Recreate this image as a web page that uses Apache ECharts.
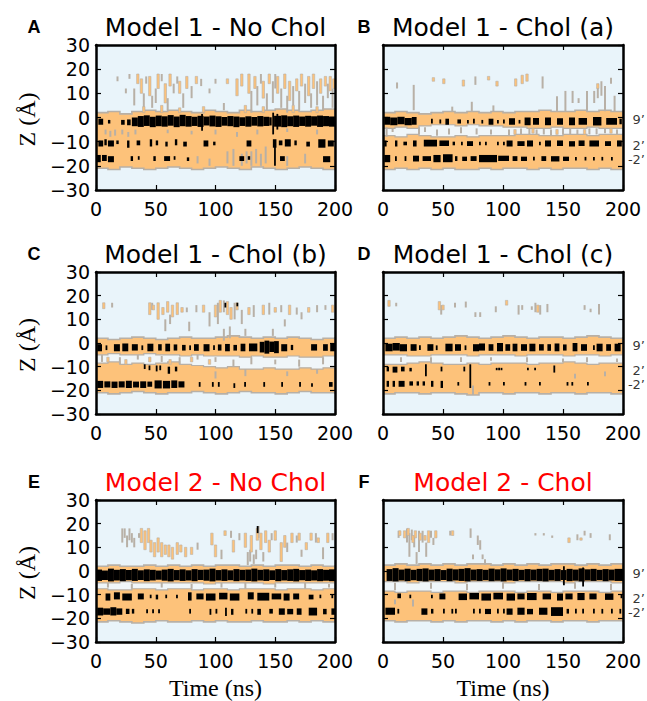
<!DOCTYPE html>
<html><head><meta charset="utf-8">
<script src="https://cdn.jsdelivr.net/npm/echarts@6/dist/echarts.min.js"></script>
<style>html,body{margin:0;padding:0;background:#fff}#c{width:647px;height:701px}</style>
</head><body><div id="c"></div>
<script>
// ---------- shared axes ----------
const times = [0,10,20,30,40,50,60,70,80,90,100,110,120,130,140,150,160,170,180,190,200];
const xTickValues = [0,50,100,150,200];
const yTickValues = [-30,-20,-10,0,10,20,30];
const residueLabels = ["9\u2019","2\u2019","-2\u2019"];
const residueZ = [-1,-11.5,-17.5];

// ---------- Panel A : Model 1 - No Chol ----------
const bandTopA = [2.0,2.5,1.5,2.5,3.0,2.5,3.0,2.5,2.0,3.0,2.5,2.0,3.0,2.5,3.0,3.5,3.0,2.5,3.0,3.5,3.0];
const bandBotA = [-21.0,-21.5,-20.5,-21.0,-21.5,-21.0,-20.5,-21.0,-21.5,-21.0,-20.5,-21.0,-21.5,-20.5,-21.0,-21.5,-21.0,-20.5,-21.0,-21.5,-21.0];
const grayA = [[18,15,17],[25,10,12],[28,16,18],[32,5,12],[40,3,10],[42,14,17],[47,4,9],[50,6,12],[55,15,18],[60,3,8],[65,10,14],[68,14,17],[73,4,10],[80,8,13],[88,13,16],[95,10,12],[100,14,16],[107,3,6],[130,2,11],[135,5,13],[138,14,18],[143,3,10],[148,6,15],[150,12,18],[155,4,12],[160,2,9],[165,5,13],[170,3,11],[175,6,14],[180,4,10],[185,5,15],[190,3,9],[194,8,14],[198,4,12],
  [8,-7,-5],[12,-8,-5.5],[16,-7.5,-5],[22,-7,-5],[27,-8,-6],[33,-7,-5],[60,-6.5,-5],[80,-7,-5.5],[100,-7,-5],[118,-8,-6],[135,-7,-5],[160,-6,-4.5],[185,-7,-5],
  [130,-20,-14],[134,-19,-13],[138,-20,-15],[142,-19,-12],[122,-20,-15],[110,-19,-14],[160,-20,-16],[175,-19,-15],[95,-20,-17],[85,-19,-16],[115,-20,-13],[126,-19,-14]];
const orangeA = [[35,14,18],[38,10,16],[45,9,17],[52,12,18],[58,6,14],[62,13,18],[70,10,15],[76,12,17],[84,14,17],[110,14,16],[118,9,16],[122,13,18],[128,10,18],[133,12,17],[140,8,15],[145,14,18],[152,10,17],[158,12,18],[162,7,15],[168,11,16],[172,13,18],[178,9,17],[182,12,18],[188,10,16],[192,13,17],[196,11,17],[199,12,16],
  [40,2,4.5],[55,2,5],[70,2,4],[90,2,4.5],[125,2,5],[140,2,4.5],[165,2,5],[185,2,4.5]];
const blackA = [[2,6,-3,-0.5],[10,12,-2.5,-1],[21,24,-3,-1],[26,29,-3.2,-0.8],[30,35,-3.6,0],[35,40,-3.9,0.6],[40,45,-3.5,0.9],[45,50,-4,0.3],[50,55,-3.6,0.8],[55,60,-3.8,0.5],[60,65,-3.4,1.0],[65,70,-4,0.4],[70,75,-3.6,1.1],[75,80,-3.8,0.6],[80,85,-3.5,0.3],[85,90,-3.9,0.7],[90,95,-3.3,0.4],[95,100,-3.7,0.8],[100,105,-3.9,0.5],[105,110,-3.4,0.2],[110,115,-3.6,0.6],[115,120,-4,0.4],[120,125,-3.5,0.1],[125,130,-3.8,0.5],[130,135,-3.4,0.2],[135,140,-3.7,0.6],[140,145,-3.5,0.3],[145,147,-3.3,0.1],[149,155,-3.8,0.7],[155,160,-4,0.9],[160,165,-3.6,0.5],[165,170,-3.9,0.8],[170,175,-3.5,0.4],[175,180,-3.8,0.7],[180,185,-3.4,0.5],[185,190,-3.9,0.8],[190,195,-3.6,0.6],[195,200,-3.8,0.4],[88,89,-5.5,1.5],[147.5,148.5,-7,2],[151,152,-5,1.5],
  [2,6,-12,-9.5],[7,9,-11.5,-9],[10,15,-12,-9.5],[17,19,-11,-9.5],[26,28,-12.5,-9.5],[34,37,-11.5,-9.5],[45,47,-12,-9],[50,52,-11.5,-9.5],[58,60,-12,-10],[66,68,-11.5,-9],[73,76,-12,-10],[90,94,-12,-9.5],[98,100,-11.5,-10],[126,130,-12,-9.5],[148,151,-12.5,-9],[153,156,-11.5,-9.5],[158,163,-12,-9],[166,168,-11.5,-9.5],[176,179,-12,-10],[186,192,-12.5,-9],[194,199,-12,-9.5],
  [0,4,-18.5,-15.5],[5,9,-18,-15.5],[10,15,-18.5,-16],[29,31,-18,-16],[35,36,-17.5,-16],[48,50,-18,-16],[57,62,-18,-16],[65,66,-17.5,-16],[76,78,-18,-16.5],[120,124,-18,-16],[127,129,-17.5,-16],[149,150.5,-20,-12],[154,158,-18,-16],[190,196,-18.5,-16]];

// ---------- Panel B : Model 1 - Chol (a) ----------
const bandTopB = [2.0,2.5,2.0,1.5,2.0,2.5,2.0,2.5,2.0,2.5,2.0,2.5,2.5,3.0,2.5,2.5,3.0,2.5,3.0,2.5,3.0];
const bandBotB = [-21.5,-21.0,-21.5,-21.0,-21.5,-21.0,-21.5,-21.5,-21.0,-21.5,-21.0,-21.0,-21.5,-21.0,-21.5,-21.0,-21.0,-21.5,-21.0,-21.5,-21.0];
const gapTopB = [-4.5,-4.0,-4.5,-3.5,-3.0,-3.0,-3.5,-3.0,-3.5,-3.5,-4.0,-4.0,-4.5,-4.5,-4.0,-4.5,-4.5,-4.0,-4.5,-4.5,-4.0];
const gapBotB = [-7.5,-8.0,-7.0,-7.5,-8.0,-8.0,-7.5,-8.0,-7.5,-7.5,-7.5,-7.0,-7.0,-7.5,-7.5,-7.0,-7.0,-7.5,-7.0,-7.0,-7.5];
const grayB = [[11.7,12,14.5],[25.6,3,13.5],[57.7,2.5,4.5],[74,2.5,6.5],[77,13.5,17],[92,2.5,5],[133,12,17],[145,2.6,8.8],[152,2.6,11],[158,6,11],[163,6,8],[170,2.6,11],[176,6,11],[179,8,12.5],[182,9,15],[185,2.6,13],[190,14,16.5],[193,2.6,9],
  [3,-8,-4],[8,-6,-4.5],[30,-7,-4],[35,-6,-4],[45,-7.5,-5],[55,-7,-4.5],[65,-6.5,-4],[78,-7,-4.5],[90,-7,-5],[105,-7.5,-5],[115,-7,-4.5],[122,-7,-4.5],[128,-7,-5],[134,-7,-4.5],[140,-7.5,-5],[150,-7,-4.5],[156,-7,-4.5],[162,-7,-5],[172,-7,-4.5],[178,-7,-4.5],[185,-6.5,-4.5],[195,-7,-5]];
const orangeB = [[42,15,16.5],[50.7,14,16],[67,13,15.5],[88,15.5,17],[95,13,15],[110.6,13,16],[116,14,17.5],[120,15,18],[179,12,14],
  [110,-7,-5],[125,-6.5,-4.5],[145,-7,-5],[168,-7,-5],[190,-6.5,-4.5]];
const blackB = [[1,6,-3,0.3],[6,12,-3.2,0],[12,18,-2.8,0.3],[18,24,-3.2,-0.2],[24,28,-3,0.2],[40,41.5,-2.5,-0.5],[47,48,-2.5,-0.8],[52,55,-3,-0.5],[62,65,-2.5,-0.8],[70,71,-2.5,-1],[75,76,-2.5,-0.5],[82,83,-2.5,-1],[88,92,-3,-0.5],[95,96,-2.5,-1],[100,101,-2.5,-0.8],[105,110,-3,-0.3],[113,114,-2.5,-1],[118,123,-3.2,0],[125,130,-3,-0.2],[135,140,-3.2,0],[145,150,-3,-0.3],[155,160,-3.2,0],[163,170,-3,-0.2],[175,182,-3.3,0.2],[186,195,-3,-0.2],[197,199,-2.8,-0.5],
  [1,3,-12,-9.5],[10,12,-12,-9.5],[17,20,-11.5,-10],[25,28,-12,-9.5],[34,45,-12,-9.2],[47,55,-11.8,-9.5],[58,60,-11.5,-10],[65,66,-11.5,-10],[70,75,-11.8,-9.8],[80,81,-11.5,-10],[85,86,-11.5,-10],[95,96,-11.5,-10],[100,101,-11.5,-10],[103,108,-12,-9.5],[112,118,-11.8,-9.8],[120,125,-12,-9.5],[130,131,-11.5,-10],[135,140,-12,-9.5],[145,150,-11.8,-9.5],[155,160,-12,-9.8],[163,168,-11.8,-9.5],[172,180,-12,-9.5],[185,190,-11.8,-9.8],[195,199,-12,-9.5],
  [1,6,-18.5,-15.5],[10,11,-18,-16],[18,19,-18,-16],[25,30,-18.2,-15.8],[33,40,-18,-16],[42,48,-18.5,-15.5],[50,58,-18.5,-15.2],[60,62,-18,-16],[66,70,-18,-16.2],[73,78,-18,-16],[80,95,-18.5,-15.5],[96,105,-18,-15.8],[108,112,-18,-16],[115,120,-18,-16.2],[125,126,-17.8,-16.2],[132,136,-18,-16],[140,147,-18.2,-16],[150,155,-18,-16.2],[160,161,-17.8,-16.3],[168,169,-17.8,-16.3],[175,176,-17.8,-16.3],[182,183,-17.8,-16.3],[190,191,-17.8,-16.3]];

// ---------- Panel C : Model 1 - Chol (b) ----------
const bandTopC = [2.0,1.5,2.0,2.5,2.0,1.5,2.0,2.5,2.0,2.0,2.5,3.0,2.5,2.0,2.5,2.0,2.5,2.0,1.5,2.0,2.5];
const bandBotC = [-21.0,-21.5,-21.0,-20.5,-21.0,-21.5,-21.0,-21.0,-20.5,-21.0,-21.5,-21.0,-20.5,-21.0,-21.0,-21.5,-21.0,-20.5,-21.0,-21.0,-21.5];
const gapTopC = [-5.0,-4.5,-5.0,-5.0,-4.5,-5.0,-5.0,-5.5,-5.0,-5.5,-5.5,-5.5,-6.0,-5.5,-6.0,-6.0,-5.5,-6.0,-6.0,-5.5,-6.0];
const gapBotC = [-8.5,-8.0,-9.0,-8.5,-9.0,-8.5,-8.0,-9.0,-9.5,-10.0,-10.5,-10.0,-11.0,-11.0,-10.5,-11.0,-11.0,-10.5,-11.0,-10.5,-10.0];
const grayC = [[13.5,15,17],[47,14,17],[58,5,10],[62,8,12],[76,13,15],[84,13,16],[95,7,13],[102,8,17],[107,13,18],[116,10,17],[122,8,14],[132,11,16],[145,12,17],[155,13,16],[158,7,10],[168,12,15],[172,10,13],[185,13,16],[192,14,16],[78,5,9],[107,1,6],[112,2,7],[125,3,6],[148,3,6],
  [5,-8,-5],[20,-9,-6],[35,-7,-5],[55,-8,-5.5],[70,-9,-6],[85,-7,-5],[100,-8,-6],[115,-10,-7],[130,-9,-6],[150,-9,-7],[170,-10,-7],[190,-9,-6],[100,-15,-12],[125,-14,-11],[160,-14,-12],[185,-13,-11]];
const orangeC = [[6.5,14.5,17],[45,12,17],[48,14,16],[52,10,17],[56,12,15],[60,13,17.5],[64,11,16],[68,12,17],[72,13,15],[90,13,16],[100,11,16],[104,13,18],[110,12,17.5],[113,10,15],[118,14,17],[128,12,15],[140,12,16],[150,13,15],[162,12,16],[178,13,15],[198,13,16],
  [10,-8,-6],[25,-9,-7],[45,-8,-6],[62,-9,-7],[80,-8,-6],[95,-9,-7]];
const blackC = [[1,5,-3.5,-0.5],[8,9,-3,-1],[15,20,-3.5,-0.5],[22,27,-3.5,-0.2],[30,35,-3.2,-0.5],[38,39,-3,-1],[43,48,-3.5,-0.3],[52,55,-3.2,-0.5],[58,62,-3.5,-0.3],[65,68,-3.2,-0.6],[72,75,-3.2,-0.8],[78,79,-3,-1],[82,86,-3.3,-0.5],[90,95,-3.5,-0.5],[98,99,-3,-1],[102,105,-3.2,-0.6],[108,112,-3.5,-0.4],[115,118,-3.2,-0.8],[121,125,-3.5,-0.3],[128,135,-3.5,-0.2],[137,141,-4,0.5],[141,145,-4.5,1],[145,149,-3.8,0.6],[149,153,-4.3,0.8],[155,160,-3.5,-0.5],[163,165,-3,-0.8],[180,185,-3.2,-0.5],[190,194,-3.3,-0.5],[196,200,-3.5,-0.3],
  [40,41,-11,-9],[44,45,-11.5,-9.5],[50,51.5,-12,-9.5],[53,54,-11.5,-9.5],[60,62,-13,-10],[66,68,-12,-10],
  [1,6,-19,-16],[7,12,-18.8,-16.2],[13,18,-19,-16.3],[19,24,-18.8,-16.2],[25,30,-19,-16],[31,36,-18.8,-16.3],[37,42,-19,-16.2],[43,47,-18.5,-16.3],[49,55,-19.2,-15.8],[56,62,-19.2,-16],[63,68,-19,-15.8],[69,74,-18.8,-16.2],[86,87,-18.5,-16.5],[97,98,-18.5,-16.5],[102,103,-18.5,-16.5],[115,116,-19,-17],[124,125,-18.5,-16.5],[140,141,-18.5,-16.5],[155,156,-18.5,-16.5],[170,171,-18.5,-16.5],[180,181,-18.5,-17],[195,198,-18.5,-16.5],
  [107.5,108.5,15,17],[117.5,118.5,15.5,17]];

// ---------- Panel D : Model 1 - Chol (c) ----------
const bandTopD = [2.0,2.5,2.0,2.5,2.0,2.5,3.0,2.5,2.0,2.5,3.0,2.5,2.0,2.5,2.5,2.0,2.5,3.0,2.5,2.0,2.5];
const bandBotD = [-21.5,-21.0,-21.0,-21.5,-21.0,-21.0,-21.5,-22.0,-21.0,-21.0,-21.5,-21.0,-21.0,-21.5,-21.0,-21.0,-21.5,-21.0,-21.0,-21.5,-21.0];
const gapTopD = [-5.0,-5.0,-5.5,-5.5,-5.0,-5.0,-5.0,-5.5,-5.0,-5.0,-5.0,-5.5,-5.0,-5.0,-5.0,-5.5,-5.0,-5.0,-5.5,-5.0,-5.0];
const gapBotD = [-9.0,-9.0,-8.5,-8.0,-8.5,-9.0,-9.0,-8.5,-9.0,-8.5,-8.5,-8.5,-9.0,-8.5,-8.5,-8.0,-8.5,-9.0,-8.5,-8.5,-9.0];
const grayD = [[11,15.5,17],[48.5,12,16],[60,15,17],[69,15,17.5],[77,11,13],[81,11,13],[94,13,15.5],[113,12,16],[116,14,16],[124,14,15.5],[127,13,17],[131,12,16],[137,13,16.5],[168,14,16],[173,13,14.5],[180,12,16.5],
  [15,-8,-6],[40,-8.5,-6],[65,-8,-6],[90,-7.5,-6],[120,-8,-6],[150,-8,-6.5],[170,-8,-6],[195,-8,-6.5],[75,-22,-18],[160,-15,-13],[185,-14,-12]];
const orangeD = [[5,15.5,18],[47,14,17.5],[50,14,16],[103,16,18],[129,13,16]];
const blackD = [[2,8,-3.5,-0.3],[8,14,-3.2,0],[14,20,-3.5,-0.5],[23,28,-3.3,-0.5],[30,31,-3,-1],[37,42,-3.3,-0.5],[44,45,-3,-1],[52,58,-3.5,-0.3],[60,65,-3.3,-0.5],[68,69,-3,-1],[75,80,-3.5,-0.5],[80,85,-3.2,-0.2],[88,92,-3.3,-0.5],[95,100,-3.5,0],[102,106,-3.3,-0.5],[108,112,-3.5,-0.3],[115,120,-3.3,-0.5],[122,127,-3.5,-0.3],[130,134,-3.2,-0.5],[137,140,-3.3,-0.5],[143,147,-3.5,-0.2],[150,153,-3.2,-0.6],[158,162,-3.5,0],[165,170,-3.3,-0.5],[175,176,-3,-1],[178,183,-3.5,-0.3],[186,190,-3.3,-0.5],[193,198,-3.5,-0.3],
  [3,5,-12,-10],[8,12,-12.5,-10],[15,18,-12,-10],[22,24,-12,-10.5],[35,36,-14,-9],[48,49,-12,-10],[67,68,-12,-10],[72,73,-19,-9],[94,95,-11.5,-10.5],[96,97,-11.5,-10.5],[98,99,-11.5,-10.5],[120,121,-11.5,-10.5],[126,127,-11.5,-10.5],[142,143,-12.5,-9.5],
  [3,5,-18.5,-16],[8,10,-18.5,-16],[13,18,-18.5,-16],[22,25,-18,-16.2],[28,30,-18,-16.2],[33,35,-18,-16.2],[40,42,-18.5,-16],[48,50,-19,-16],[62,63,-18,-16.5],[88,89,-18,-16.5],[100,101,-18,-16.5],[118,119,-18,-16.5],[130,131,-18,-16.5],[153,154,-18,-16.5],[157,158,-18,-16.5],[170,171,-18,-16.5]];

// ---------- Panel E : Model 2 - No Chol ----------
const bandTopE = [2.0,2.5,2.0,2.0,2.5,2.0,2.5,2.0,2.5,2.0,2.5,2.5,2.0,2.5,2.0,2.5,2.5,2.0,2.5,2.0,2.5];
const bandBotE = [-21.5,-21.0,-21.5,-22.0,-21.5,-21.0,-21.5,-21.5,-21.0,-21.5,-21.0,-21.5,-21.5,-21.0,-21.5,-21.5,-21.0,-21.5,-21.0,-21.5,-21.5];
const gapTopE = [-5.0,-5.0,-4.5,-5.0,-5.0,-5.0,-5.0,-5.0,-5.0,-5.5,-5.0,-5.0,-5.0,-5.0,-5.5,-5.0,-5.0,-5.0,-5.0,-5.0,-5.0];
const gapBotE = [-7.5,-8.0,-8.0,-7.5,-7.5,-8.0,-7.5,-7.5,-8.0,-7.5,-7.5,-8.0,-7.5,-7.5,-7.5,-8.0,-7.5,-7.5,-8.0,-7.5,-8.0];
const grayE = [[22,12,18],[24,14,18],[26,10,15],[28,13,18],[30,12,16],[32,10,14],[36,14,16],[85,9,12],[105,5,9],[113,14,17],[120,13,16],[127,2.5,8],[129,4,9],[132,3,7],[134,5,9],[136,14,19],[140,4,8],[147,13,16],[160,8,12],[168,12,15],[172,6,9],[184,12,16],[190,5,10],[198,13,16],
  [10,-7,-5],[30,-7.5,-5.5],[55,-7,-5],[80,-7.5,-5.5],[105,-7,-5],[125,-7.5,-5],[150,-7,-5.5],[175,-7.5,-5],[195,-7,-5.5]];
const orangeE = [[38,12,18],[41,9,17],[44,12,18],[46,8,13],[49,6,12],[52,8,14],[55,6,12],[58,7,11],[61,6,11],[64,5,10],[68,7,12],[71,8,11],[75,6,10],[80,7,10],[97,11,16],[100,6,11],[108,15,17],[115,8,13],[125,10,16],[130,8,15],[135,13,18],[138,9,16],[142,12,17],[145,8,13],[150,13,17],[155,4,12],[158,10,15],[164,12,16],[170,13,16],[176,9,12],[180,13,16],[186,12,14],[194,12,16]];
const blackE = [[0,5,-4.2,0.6],[5,10,-3.8,0.2],[10,15,-4.4,1],[15,20,-4,0.5],[20,25,-4.3,0.8],[25,30,-3.9,0.4],[30,35,-4.2,0.9],[35,40,-3.8,0.3],[40,45,-4.3,0.7],[45,50,-4,0.5],[50,55,-3.7,0.2],[55,60,-4.1,0.6],[60,65,-4.4,0.9],[65,70,-3.9,0.4],[70,75,-4.2,0.7],[75,80,-4,0.3],[80,85,-4.3,0.8],[85,90,-3.8,0.5],[90,95,-4.1,0.6],[95,100,-4.4,1],[100,105,-4,0.4],[105,110,-4.2,0.7],[110,115,-3.9,0.3],[115,120,-4.3,0.8],[120,125,-4,0.5],[125,130,-4.2,0.6],[130,135,-4.4,1],[135,140,-4,0.5],[140,145,-4.2,0.7],[145,150,-3.8,0.3],[150,155,-4.3,0.8],[155,160,-4,0.4],[160,165,-4.2,0.7],[165,170,-4.4,0.9],[170,175,-3.9,0.4],[175,180,-4.2,0.6],[180,185,-4,0.3],[185,190,-4.3,0.8],[190,195,-4.1,0.5],[195,200,-4.3,0.7],
  [8,12,-12.5,-9.5],[15,20,-12,-9],[22,30,-12.5,-9.5],[35,40,-12,-9.5],[45,46,-11.5,-10],[50,52,-12,-10],[58,59,-11.5,-10],[67,68,-11.5,-10],[77,80,-12.5,-9],[84,90,-12,-9.5],[92,100,-12.5,-9.5],[103,110,-12,-9.2],[112,120,-12.5,-9.5],[127,132,-12,-9],[135,145,-12.5,-9.2],[147,155,-12,-9.5],[157,162,-12.5,-9.5],[165,170,-12,-9.5],[178,182,-12,-10],[187,188,-11.5,-10],[197,198,-11.5,-10],
  [1,6,-18.8,-15.5],[6,12,-18.5,-15.8],[12,17,-18.8,-15.3],[17,22,-18.5,-15.8],[25,28,-18.2,-16],[30,32,-18,-16],[42,43,-17.8,-16.2],[47,48,-17.8,-16.2],[52,53,-17.8,-16.2],[78,79,-18,-16],[95,96,-18.5,-16],[100,101,-18,-16],[108,109,-19,-15.5],[113,115,-18.5,-16],[125,126,-18,-16],[130,131,-18,-16],[135,138,-18.5,-16],[145,148,-18,-16],[153,158,-18.5,-15.8],[160,165,-18.3,-16],[168,172,-18.5,-15.8],[178,185,-18.8,-15.5],[190,193,-18.3,-16],[197,200,-18.5,-15.8],
  [134.5,135.5,16,19]];

// ---------- Panel F : Model 2 - Chol ----------
const bandTopF = [2.5,3.0,2.5,3.0,2.5,3.0,2.5,3.0,3.0,2.5,3.0,2.5,3.0,2.5,3.0,3.0,2.5,3.0,2.5,3.0,3.0];
const bandBotF = [-21.0,-21.5,-21.0,-21.0,-21.5,-21.0,-21.5,-21.0,-21.0,-21.5,-21.0,-21.5,-21.0,-21.0,-21.5,-21.0,-21.0,-21.5,-21.0,-21.0,-21.5];
const gapTopF = [-4.5,-4.5,-5.0,-4.5,-4.5,-4.5,-5.0,-4.5,-4.5,-4.5,-5.0,-4.5,-4.5,-4.5,-4.5,-5.0,-4.5,-4.5,-4.5,-5.0,-4.5];
const gapBotF = [-8.5,-9.0,-8.5,-8.5,-9.0,-8.5,-8.5,-9.0,-8.5,-8.5,-8.5,-9.0,-8.5,-8.5,-9.0,-8.5,-8.5,-8.5,-9.0,-8.5,-8.5];
const grayF = [[13,14,17],[20,12,18],[22,6,16],[24,13,17.5],[26,10,15],[28,3,8],[30,8,17],[33,12,17],[36,6,12],[40,14,17],[42,11,14],[56,15,17],[73,14,18],[75,5,7],[79,11,15],[81,9,13],[83,5,7],[85,2.6,5],[127,15,16],[134,15,16],[141,14,15],[162,13,15.5],[168,15,17],[173,14,16],[189,13,15.5],
  [10,-8,-5],[40,-7.5,-5],[70,-8,-5.5],[100,-7.5,-5],[130,-8,-5.5],[160,-7.5,-5],[190,-8,-5.5],[10,-14,-12],[25,-15,-12]];
const orangeF = [[14,15,17],[18,14,17],[21,15,18],[25,12,15],[27,14,17],[31,13,16],[35,13,15],[38,12,17],[44,14,17],[58,15,17],[155,12,14],[165,13,14]];
const blackF = [[3,8,-4.2,0.8],[8,13,-4.4,1.2],[13,18,-4,0.6],[18,23,-4.3,1],[23,28,-3.9,0.5],[28,33,-4.2,0.9],[33,38,-4.4,1.1],[38,43,-4,0.6],[43,48,-4.2,0.8],[48,53,-3.8,0.4],[53,58,-4.3,1],[58,63,-4,0.7],[63,68,-4.2,0.9],[68,73,-4.4,1.2],[73,78,-4,0.6],[78,83,-4.2,0.8],[83,88,-3.9,0.5],[88,93,-4.3,1],[93,98,-4.1,0.7],[98,103,-4.4,1.1],[103,108,-4,0.6],[108,113,-4.2,0.9],[113,118,-3.9,0.5],[118,123,-4.3,0.8],[123,128,-4,0.6],[128,133,-4.2,0.9],[133,138,-4.4,1],[138,143,-4,0.5],[143,148,-4.2,0.8],[148,153,-3.8,0.4],[153,158,-4.3,0.9],[158,163,-4.1,0.6],[163,168,-4.4,1.1],[168,173,-4,0.7],[173,178,-4.2,0.9],[178,183,-3.9,0.5],[183,188,-4.3,0.8],[188,193,-4,0.6],[193,200,-4.2,0.9],[150,151,-6,2],[166,167,-6.5,1.5],
  [12,15,-11.5,-9.5],[22,23,-11.5,-10],[40,41,-11.5,-10],[47,52,-12,-9.5],[63,70,-12.3,-9.5],[72,80,-12,-9.3],[82,90,-12.5,-9.5],[92,100,-12,-9.2],[103,110,-12.5,-9.5],[112,118,-12,-9.5],[120,128,-12.3,-9.3],[133,140,-12,-9.5],[145,150,-12.5,-9.5],[152,158,-12,-9.5],[162,168,-12.3,-9.3],[172,178,-12,-9.5],[185,192,-12.2,-9.5],[198,199,-11.5,-10],
  [2,10,-18.5,-15.5],[12,13,-18,-16],[32,37,-18.5,-15.8],[40,42,-18,-16],[50,51,-18,-16],[57,58,-18,-16],[60,61,-18,-16],[75,76,-18,-16],[80,81,-18,-16],[85,90,-18.2,-16],[95,96,-18,-16],[100,101,-18,-16],[103,108,-18.5,-15.8],[112,118,-18.5,-15.5],[120,125,-18.3,-16],[130,137,-18.5,-15.5],[140,150,-19,-15.3],[153,155,-18,-16],[160,161,-18,-16],[166,167,-18,-16],[175,176,-18,-16],[182,183,-18,-16],[190,191,-18,-16],[197,198,-18,-16]];

// ---------- build chart ----------
const BG = '#e9f4fa', ORANGE = '#fdc27a', GRAY = '#b8b0a6', GAP = '#f0f6f9';
const panels = [
  {letter:'A', title:'Model 1 - No Chol', red:false, left:96, top:45, w:239, h:145, yLab:true, bt:bandTopA, bb:bandBotA, gt:null, gb:null, gray:grayA, orange:orangeA, black:blackA},
  {letter:'B', title:'Model 1 - Chol (a)', red:false, left:383, top:45, w:240, h:145, yLab:false, bt:bandTopB, bb:bandBotB, gt:gapTopB, gb:gapBotB, gray:grayB, orange:orangeB, black:blackB},
  {letter:'C', title:'Model 1 - Chol (b)', red:false, left:96, top:272, w:239, h:142, yLab:true, bt:bandTopC, bb:bandBotC, gt:gapTopC, gb:gapBotC, gray:grayC, orange:orangeC, black:blackC},
  {letter:'D', title:'Model 1 - Chol (c)', red:false, left:383, top:272, w:240, h:142, yLab:false, bt:bandTopD, bb:bandBotD, gt:gapTopD, gb:gapBotD, gray:grayD, orange:orangeD, black:blackD},
  {letter:'E', title:'Model 2 - No Chol', red:true, left:96, top:500, w:239, h:142, yLab:true, bt:bandTopE, bb:bandBotE, gt:gapTopE, gb:gapBotE, gray:grayE, orange:orangeE, black:blackE},
  {letter:'F', title:'Model 2 - Chol', red:true, left:383, top:500, w:240, h:142, yLab:false, bt:bandTopF, bb:bandBotF, gt:gapTopF, gb:gapBotF, gray:grayF, orange:orangeF, black:blackF}
];

// stepped outline: each sample holds its level until the next sample time
function polyRender(topArr, botArr, fill, stroke, lw){
  return function(params, api){
    if (params.dataIndex !== 0) return;
    const pts = [];
    const n = times.length;
    for (let i = 0; i < n; i++) {
      const tEnd = i < n - 1 ? times[i + 1] : times[i];
      pts.push(api.coord([times[i], topArr[i]]));
      pts.push(api.coord([tEnd, topArr[i]]));
    }
    for (let i = n - 1; i >= 0; i--) {
      const tEnd = i < n - 1 ? times[i + 1] : times[i];
      pts.push(api.coord([tEnd, botArr[i]]));
      pts.push(api.coord([times[i], botArr[i]]));
    }
    return {type:'polygon', shape:{points:pts}, style:{fill:fill, stroke:stroke, lineWidth:lw, lineJoin:'miter'}};
  };
}
function tickRender(fill, stroke, wpx){
  return function(params, api){
    const a = api.coord([api.value(0), api.value(2)]);
    const b = api.coord([api.value(0), api.value(1)]);
    return {type:'rect', shape:{x:a[0]-wpx/2, y:a[1], width:wpx, height:Math.max(1.5, b[1]-a[1])},
      style:{fill:fill, stroke:stroke, lineWidth:stroke ? 0.6 : 0}};
  };
}
function segRender(fill){
  return function(params, api){
    const a = api.coord([api.value(0), api.value(3)]);
    const b = api.coord([api.value(1), api.value(2)]);
    return {type:'rect', shape:{x:a[0], y:a[1], width:Math.max(1.8, b[0]-a[0]), height:Math.max(1.5, b[1]-a[1])}, style:{fill:fill}};
  };
}
const minusFmt = v => (v < 0 ? '\u2212' + Math.abs(v) : String(v));
const labelFont = {fontFamily:'DejaVu Sans', fontSize:19, color:'#000'};

const grids = [], xAxes = [], yAxes = [], series = [], graphics = [];
panels.forEach((p, i) => {
  grids.push({left:p.left, top:p.top, width:p.w, height:p.h, show:true, backgroundColor:BG, borderWidth:0});
  const axLine = {show:true, onZero:false, lineStyle:{color:'#000', width:2.5}};
  const tick = {show:true, inside:true, length:5, lineStyle:{color:'#000', width:1.2}};
  xAxes.push({gridIndex:i, type:'value', min:0, max:200, interval:50, position:'bottom', z:10,
    axisLine:axLine, axisTick:tick, splitLine:{show:false},
    axisLabel:Object.assign({margin:9, formatter: v => String(v)}, labelFont)});
  xAxes.push({gridIndex:i, type:'value', min:0, max:200, interval:50, position:'top', z:10,
    axisLine:axLine, axisTick:tick, splitLine:{show:false}, axisLabel:{show:false}});
  yAxes.push({gridIndex:i, type:'value', min:-30, max:30, interval:10, position:'left', z:10,
    axisLine:axLine, axisTick:tick, splitLine:{show:false},
    axisLabel:Object.assign({show:p.yLab, margin:6, formatter:minusFmt}, labelFont)});
  yAxes.push({gridIndex:i, type:'value', min:-30, max:30, interval:10, position:'right', z:10,
    axisLine:axLine, axisTick:tick, splitLine:{show:false}, axisLabel:{show:false}});
  const xi = 2*i, yi = 2*i;
  series.push({type:'custom', xAxisIndex:xi, yAxisIndex:yi, z:1, clip:true, silent:true,
    renderItem:polyRender(p.bt, p.bb, ORANGE, GRAY, 1.6), data:[[0,0]]});
  if (p.gt) series.push({type:'custom', xAxisIndex:xi, yAxisIndex:yi, z:2, clip:true, silent:true,
    renderItem:polyRender(p.gt, p.gb, GAP, GRAY, 1.2), data:[[0,0]]});
  series.push({type:'custom', xAxisIndex:xi, yAxisIndex:yi, z:3, clip:true, silent:true,
    renderItem:tickRender(GRAY, null, 2), data:p.gray});
  series.push({type:'custom', xAxisIndex:xi, yAxisIndex:yi, z:3, clip:true, silent:true,
    renderItem:tickRender(ORANGE, GRAY, 2.4), data:p.orange});
  series.push({type:'custom', xAxisIndex:xi, yAxisIndex:yi, z:4, clip:true, silent:true,
    renderItem:segRender('#000'), data:p.black});
  if (!p.yLab) {
    series.push({type:'scatter', xAxisIndex:xi, yAxisIndex:yi, z:5, silent:true, symbolSize:0,
      data: residueZ.map((z, k) => ({value:[200, z], name:residueLabels[k]})),
      label:{show:true, position:'right', distance:22, align:'right', formatter:'{b}',
        fontFamily:'DejaVu Sans', fontSize:13, color:'#000'}});
  }
  const cx = p.left + p.w/2;
  graphics.push({type:'text', x:cx, y:p.top - 18, style:{text:p.title, font:'25px "DejaVu Sans"', fill:p.red ? '#ff0000' : '#000',
    align:'center', verticalAlign:'middle', textAlign:'center', textVerticalAlign:'middle'}});
  const lx = p.left - (p.yLab ? 62 : 19);
  graphics.push({type:'text', x:lx, y:p.top - 18, style:{text:p.letter, font:'bold 18px "Liberation Sans"', fill:'#000',
    align:'center', verticalAlign:'middle', textAlign:'center', textVerticalAlign:'middle'}});
  if (p.yLab) {
    graphics.push({type:'text', x:27, y:p.top + p.h/2 + 2, rotation:Math.PI/2, style:{text:'Z (\u00C5)', font:'24px "Liberation Serif"', fill:'#000',
      align:'center', verticalAlign:'middle', textAlign:'center', textVerticalAlign:'middle'}});
  }
  if (i >= 4) {
    graphics.push({type:'text', x:cx, y:688, style:{text:'Time (ns)', font:'24px "Liberation Serif"', fill:'#000',
      align:'center', verticalAlign:'middle', textAlign:'center', textVerticalAlign:'middle'}});
  }
});

const chart = echarts.init(document.getElementById('c'), null, {renderer:'svg'});
chart.setOption({
  animation:false,
  backgroundColor:'#ffffff',
  grid:grids, xAxis:xAxes, yAxis:yAxes, series:series, graphic:graphics
});
</script>
</body></html>
